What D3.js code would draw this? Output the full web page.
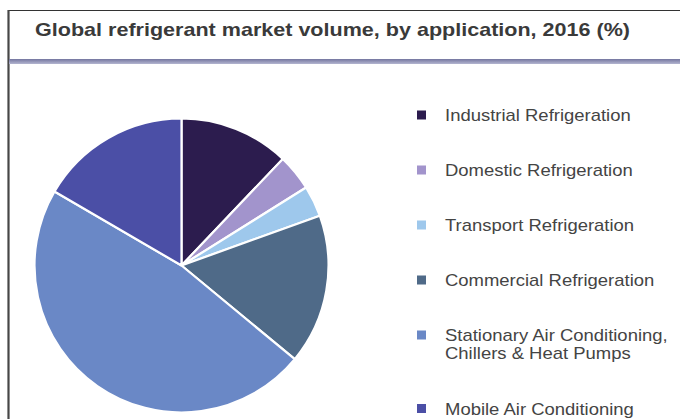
<!DOCTYPE html>
<html>
<head>
<meta charset="utf-8">
<script src="https://cdn.jsdelivr.net/npm/d3@7"></script>
<style>
  html, body { margin: 0; padding: 0; background: #fff; }
  svg { display: block; }
</style>
</head>
<body>
<svg id="chart" width="680" height="419"></svg>
<script>
const title = "Global refrigerant market volume, by application, 2016 (%)";
const categories = [
  "Industrial Refrigeration",
  "Domestic Refrigeration",
  "Transport Refrigeration",
  "Commercial Refrigeration",
  "Stationary Air Conditioning,\nChillers & Heat Pumps",
  "Mobile Air Conditioning"
];
const values = [12.1, 4.0, 3.4, 16.5, 47.4, 16.6];
const colors = ["#2c1c4e", "#a294cc", "#9ec8ec", "#4f6a88", "#6a88c6", "#4b4fa6"];

const svg = d3.select("#chart");
const font = "'Liberation Sans', Arial, sans-serif";

// frame
svg.append("line").attr("x1", 8).attr("x2", 680).attr("y1", 10.5).attr("y2", 10.5)
  .attr("stroke", "#333").attr("stroke-width", 1.2);
svg.append("line").attr("x1", 8.5).attr("x2", 8.5).attr("y1", 10).attr("y2", 419)
  .attr("stroke", "#474747").attr("stroke-width", 2.2);

// title
svg.append("text").attr("x", 35).attr("y", 36)
  .attr("font-family", font).attr("font-weight", "bold").attr("font-size", 19)
  .attr("fill", "#3a3a3a").attr("textLength", 595).attr("lengthAdjust", "spacingAndGlyphs")
  .text(title);

// band under title
const defs = svg.append("defs");
const grad = defs.append("linearGradient").attr("id", "band").attr("x1", 0).attr("x2", 0).attr("y1", 0).attr("y2", 1);
grad.append("stop").attr("offset", "0%").attr("stop-color", "#74769f");
grad.append("stop").attr("offset", "100%").attr("stop-color", "#b3b5d0");
svg.append("rect").attr("x", 9).attr("y", 59).attr("width", 671).attr("height", 5).attr("fill", "url(#band)");

// pie
const cx = 181.5, cy = 265.5, r = 147;
const pie = d3.pie().sort(null).value(d => d)(values);
const arc = d3.arc().innerRadius(0).outerRadius(r);
const g = svg.append("g").attr("transform", `translate(${cx},${cy})`);
g.selectAll("path").data(pie).join("path")
  .attr("d", arc)
  .attr("fill", (d, i) => colors[i])
  .attr("stroke", "#fff").attr("stroke-width", 2.2).attr("stroke-linejoin", "round");

// legend
const legendX = 417, textX = 445;
const rowY = d3.scaleLinear().domain([0, 1]).range([115, 170]);
let extra = 0;
categories.forEach((c, i) => {
  const y = rowY(i) + extra;
  svg.append("rect").attr("x", legendX).attr("y", y - 4.5).attr("width", 9).attr("height", 9)
    .attr("fill", colors[i]);
  const lines = c.split("\n");
  const t = svg.append("text")
    .attr("font-family", font).attr("font-size", 16).attr("fill", "#444")
    .attr("transform", `translate(${textX},${y + 6}) scale(1.155,1)`);
  lines.forEach((ln, j) => {
    t.append("tspan").attr("x", 0).attr("y", j * 18.5).text(ln);
  });
  extra += (lines.length - 1) * 18.5;
});
</script>
</body>
</html>
